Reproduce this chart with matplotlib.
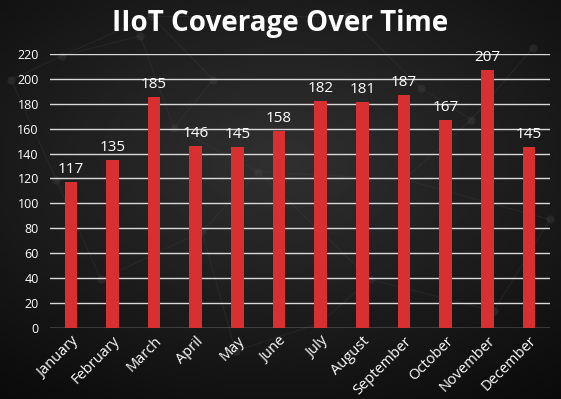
import numpy as np
import matplotlib.pyplot as plt

months = ['January', 'February', 'March', 'April', 'May', 'June', 'July',
          'August', 'September', 'October', 'November', 'December']
coverage = [117, 135, 185, 146, 145, 158, 182, 181, 187, 167, 207, 145]
y_ticks = list(range(0, 221, 20))

# faint "network" decoration in the background (figure fraction coords)
net_nodes = [(0.02, 0.80), (0.11, 0.86), (0.27, 0.96), (0.25, 0.91), (0.31, 0.68),
             (0.46, 0.57), (0.38, 0.80), (0.62, 0.96), (0.75, 0.78), (0.84, 0.70),
             (0.95, 0.88), (0.66, 0.30), (0.57, 0.19), (0.42, 0.12), (0.88, 0.22),
             (0.18, 0.30), (0.10, 0.55), (0.72, 0.55), (0.98, 0.45), (0.36, 0.42)]
net_edges = [(0, 1), (1, 2), (1, 3), (3, 4), (4, 5), (4, 6), (6, 2), (2, 7), (7, 8),
             (8, 9), (9, 10), (5, 11), (11, 12), (12, 13), (11, 14), (15, 16), (16, 0),
             (5, 17), (17, 9), (17, 18), (19, 5), (19, 15), (13, 19), (14, 18)]

fig = plt.figure(figsize=(5.61, 3.99), dpi=100)

# radial dark gradient behind everything
bg = fig.add_axes([0, 0, 1, 1], zorder=-2)
yy, xx = np.mgrid[0:1:200j, 0:1:280j]
r = np.sqrt(((xx - 0.5) / 0.9) ** 2 + ((yy - 0.6) / 0.8) ** 2)
bg.imshow(np.clip(0.19 - 0.16 * r, 0.04, 0.19), cmap='gray', vmin=0, vmax=1,
          extent=[0, 1, 0, 1], aspect='auto', origin='lower')
for a, b in net_edges:
    bg.plot([net_nodes[a][0], net_nodes[b][0]], [net_nodes[a][1], net_nodes[b][1]],
            color='#4a4a4a', lw=0.6, alpha=0.3)
bg.scatter([p[0] for p in net_nodes], [p[1] for p in net_nodes],
           s=35, color='#4a4a4a', alpha=0.3, lw=0)
bg.set_xlim(0, 1)
bg.set_ylim(0, 1)
bg.axis('off')

ax = fig.add_axes([0.089, 0.178, 0.891, 0.687])
ax.patch.set_alpha(0)
x = np.arange(len(months))
ax.bar(x, coverage, width=0.3, color='#d83030', zorder=3)
for xi, v in zip(x, coverage):
    ax.text(xi, v + 4, str(v), ha='center', va='bottom', color='white',
            fontsize=11, family='Open Sans')

ax.set_ylim(0, 220)
ax.set_xlim(-0.5, len(months) - 0.5)
ax.set_yticks(y_ticks)
ax.set_xticks(x)
ax.set_xticklabels(months, rotation=45, ha='right', va='top', rotation_mode='anchor')
ax.tick_params(axis='x', length=0, colors='white', labelsize=10.5, pad=4)
ax.tick_params(axis='y', length=0, colors='white', labelsize=9, pad=8)
for lbl in ax.get_xticklabels() + ax.get_yticklabels():
    lbl.set_family('Open Sans')
ax.grid(axis='y', color='#d9d9d9', lw=1, zorder=0)
for s in ax.spines.values():
    s.set_visible(False)

fig.text(0.5, 0.94, 'IIoT Coverage Over Time', ha='center', va='center',
         color='white', fontsize=20, fontweight='bold', family='Open Sans')

fig.savefig('out.png', dpi=100, facecolor='#111111')
